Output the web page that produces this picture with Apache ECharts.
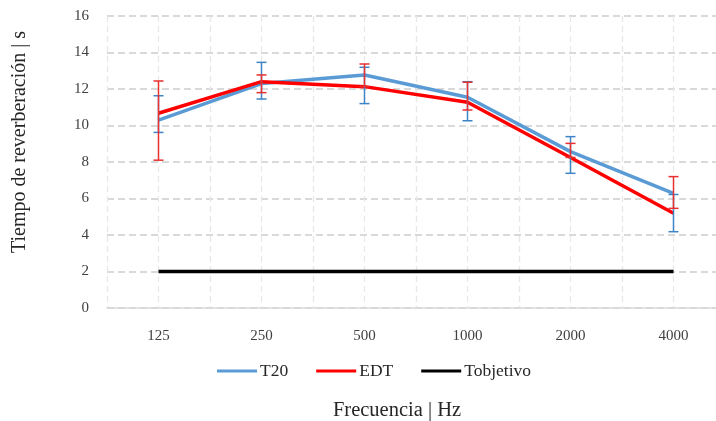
<!DOCTYPE html>
<html>
<head>
<meta charset="utf-8">
<script src="https://cdn.jsdelivr.net/npm/echarts@6/dist/echarts.min.js"></script>
<style>html,body{margin:0;padding:0;background:#fff;overflow:hidden;}#chart{width:716px;height:421px;}</style>
</head>
<body>
<div id="chart"></div>
<script>
var categories = ['125', '250', '500', '1000', '2000', '4000'];
var t20 = [10.3, 12.3, 12.77, 11.55, 8.57, 6.28];
var edt = [10.67, 12.4, 12.13, 11.27, 8.25, 5.19];
var tobjetivo = [2, 2, 2, 2, 2, 2];
var t20Low = [9.62, 11.45, 11.2, 10.26, 7.38, 4.18];
var t20High = [11.63, 13.46, 13.19, 12.4, 9.39, 6.22];
var edtLow = [8.1, 11.8, 12.13, 10.85, 8.25, 5.46];
var edtHigh = [12.44, 12.77, 13.37, 12.37, 9.02, 7.2];
var yTicks = [0, 2, 4, 6, 8, 10, 12, 14, 16];

var FONT = 'Liberation Serif';
var halfSlots = [];
for (var i = 0; i < categories.length * 2; i++) halfSlots.push('s' + i);

function errData(lo, hi) {
  return categories.map(function (c, i) { return [i, lo[i], hi[i]]; });
}
function errSeries(name, lo, hi, color) {
  return {
    type: 'custom',
    name: name + ' err',
    xAxisIndex: 0,
    z: 5,
    encode: { x: 0, y: [1, 2] },
    data: errData(lo, hi),
    renderItem: function (params, api) {
      var x = api.value(0);
      var top = api.coord([x, api.value(2)]);
      var bot = api.coord([x, api.value(1)]);
      var hw = 5;
      var st = { stroke: color, lineWidth: 1.5 };
      return {
        type: 'group',
        children: [
          { type: 'line', shape: { x1: top[0], y1: top[1], x2: bot[0], y2: bot[1] }, style: st },
          { type: 'line', shape: { x1: top[0] - hw, y1: top[1], x2: top[0] + hw, y2: top[1] }, style: st },
          { type: 'line', shape: { x1: bot[0] - hw, y1: bot[1], x2: bot[0] + hw, y2: bot[1] }, style: st }
        ]
      };
    }
  };
}

var chart = echarts.init(document.getElementById('chart'));
chart.setOption({
  animation: false,
  backgroundColor: '#ffffff',
  grid: { left: 107, top: 16, width: 618, height: 292, containLabel: false, outerBoundsMode: 'none' },
  legend: {
    data: [
      { name: 'T20', icon: 'rect' },
      { name: 'EDT', icon: 'rect' },
      { name: 'Tobjetivo', icon: 'rect' }
    ],
    left: 212,
    top: 357,
    itemWidth: 40,
    itemHeight: 3,
    itemGap: 28,
    textStyle: { fontFamily: FONT, fontSize: 17.5, color: '#262626', padding: [0, 0, 0, -2] }
  },
  xAxis: [
    {
      type: 'category',
      data: categories,
      boundaryGap: true,
      name: 'Frecuencia | Hz',
      nameLocation: 'middle',
      nameGap: 92,
      nameTextStyle: { fontFamily: FONT, fontSize: 20.5, color: '#262626', padding: [0, 38, 0, 0] },
      axisLine: { show: true, lineStyle: { color: '#d9d9d9', width: 1.5 } },
      axisTick: { show: false },
      axisLabel: { fontFamily: FONT, fontSize: 15, color: '#404040', margin: 21 },
      splitLine: { show: true, lineStyle: { color: '#e8e8e8', type: [6, 4], width: 1.2 } }
    },
    {
      type: 'category',
      data: halfSlots,
      boundaryGap: true,
      position: 'bottom',
      axisLine: { show: false },
      axisTick: { show: false },
      axisLabel: { show: false },
      splitLine: { show: true, lineStyle: { color: '#e8e8e8', type: [6, 4], width: 1.2 } }
    }
  ],
  yAxis: {
    type: 'value',
    min: 0,
    max: 16,
    interval: 2,
    name: 'Tiempo de reverberación | s',
    nameLocation: 'middle',
    nameGap: 77,
    nameTextStyle: { fontFamily: FONT, fontSize: 20, color: '#262626', padding: [0, 0, 0, 40] },
    axisLine: { show: false },
    axisTick: { show: false },
    axisLabel: { fontFamily: FONT, fontSize: 15, color: '#404040', margin: 18 },
    splitLine: { show: true, lineStyle: { color: '#d9d9d9', type: [7, 4], width: 1.8 } }
  },
  series: [
    { name: 'T20', type: 'line', data: t20, showSymbol: false, symbol: 'none', lineStyle: { color: '#5b9bd5', width: 3.5 }, itemStyle: { color: '#5b9bd5' }, z: 2 },
    { name: 'EDT', type: 'line', data: edt, showSymbol: false, symbol: 'none', lineStyle: { color: '#ff0000', width: 3.5 }, itemStyle: { color: '#ff0000' }, z: 3 },
    { name: 'Tobjetivo', type: 'line', data: tobjetivo, showSymbol: false, symbol: 'none', lineStyle: { color: '#000000', width: 3.5 }, itemStyle: { color: '#000000' }, z: 3 },
    errSeries('T20', t20Low, t20High, '#3d85c6'),
    errSeries('EDT', edtLow, edtHigh, '#e83030')
  ]
});
</script>
</body>
</html>
